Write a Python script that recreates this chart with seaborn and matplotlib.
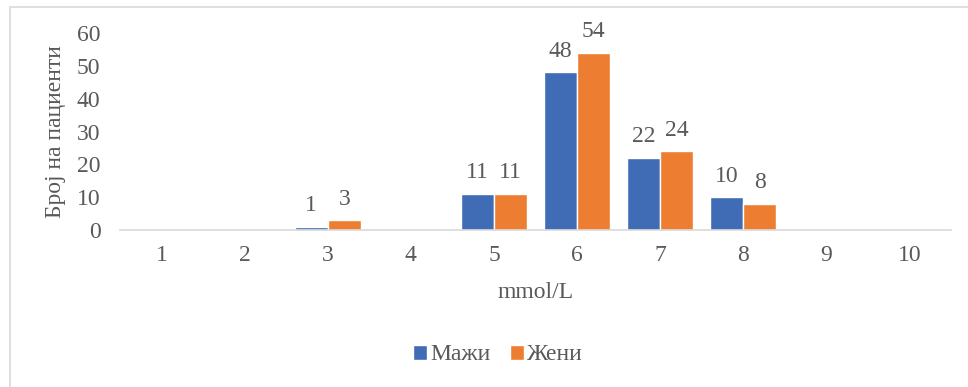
import matplotlib
matplotlib.use("Agg")
import matplotlib.pyplot as plt
from matplotlib.patches import Rectangle
import seaborn as sns
import pandas as pd

# Glucose level bins (mmol/L) and patient counts per sex
categories = ["1", "2", "3", "4", "5", "6", "7", "8", "9", "10"]
men = [0, 0, 1, 0, 11, 48, 22, 10, 0, 0]
women = [0, 0, 3, 0, 11, 54, 24, 8, 0, 0]
series_names = ["Мажи", "Жени"]
yticks = [0, 10, 20, 30, 40, 50, 60]

colors = ["#3F6CB5", "#ED7D31"]
text_color = "#595959"
line_color = "#D9D9D9"
fs = 17

df = pd.DataFrame({
    "bin": categories * 2,
    "count": men + women,
    "sex": [series_names[0]] * len(categories) + [series_names[1]] * len(categories),
})

sns.set_theme(style="white")
plt.rcParams["font.family"] = ["Liberation Serif", "DejaVu Serif"]

fig = plt.figure(figsize=(9.68, 3.87), dpi=100)
ax = fig.add_axes([120 / 968, 1 - 230 / 387, (951 - 120) / 968, (230 - 33) / 387])

sns.barplot(data=df, x="bin", y="count", hue="sex", order=categories,
            hue_order=series_names, palette=colors, width=0.8,
            saturation=1, ax=ax, legend=True)

for container in ax.containers:
    labels = [f"{int(b.get_height())}" if b.get_height() > 0 else "" for b in container]
    ax.bar_label(container, labels=labels, padding=7.5, fontsize=fs, color=text_color)

ax.set_xlim(-0.5, len(categories) - 0.5)
ax.set_ylim(0, 60)
ax.set_yticks(yticks)
ax.tick_params(axis="both", length=0, labelsize=fs, labelcolor=text_color)
ax.tick_params(axis="y", pad=14)
ax.tick_params(axis="x", pad=11)

for side in ["top", "right", "left"]:
    ax.spines[side].set_visible(False)
ax.spines["bottom"].set_color(line_color)
ax.spines["bottom"].set_linewidth(1.2)

ax.set_xlabel("mmol/L", fontsize=fs, color=text_color, labelpad=11)
ax.set_ylabel("Број на пациенти", fontsize=fs, color=text_color)
ax.yaxis.set_label_coords(-54 / 831, 0.5)

leg = ax.legend(loc="center", bbox_to_anchor=(498 / 968, 1 - 355 / 387),
                bbox_transform=fig.transFigure, ncol=2, frameon=False,
                fontsize=fs, handlelength=0.6, handleheight=0.6,
                handletextpad=0.15, columnspacing=0.8)
for t in leg.get_texts():
    t.set_color(text_color)

# Chart area frame
fig.patches.append(Rectangle((10 / 968, -0.1), 1.2, 1 - 7 / 387 + 0.1,
                             transform=fig.transFigure, fill=False,
                             edgecolor=line_color, linewidth=1.2, zorder=0))

fig.savefig("out.png", dpi=100, facecolor="white")
